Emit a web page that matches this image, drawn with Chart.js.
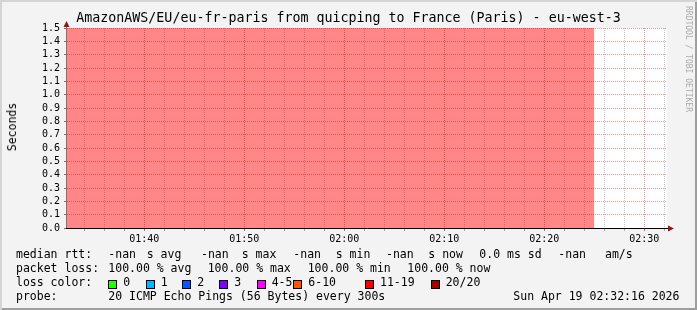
<!DOCTYPE html>
<html>
<head>
<meta charset="utf-8">
<script src="https://cdn.jsdelivr.net/npm/chart.js@4.4.1/dist/chart.umd.min.js"></script>
<style>
html, body { margin: 0; padding: 0; }
#wrap {
    position: relative; width: 697px; height: 310px; overflow: hidden;
    background: #f3f3f3;
    box-shadow: inset 2px 2px 0 #d4d4d4, inset -2px -2px 0 #9e9e9e;
    font-family: "DejaVu Sans Mono", monospace; color: #000;
}
#Canvas-Main { position: absolute; left: 0; top: 0; }
.txt { position: absolute; white-space: nowrap; font-size: 11.5px; line-height: 14px; }
#title { position: absolute; left: 0; width: 697px; top: 10px; text-align: center; font-size: 13.3px; line-height: 16px; white-space: nowrap; }
#ylabel { position: absolute; left: 11.7px; top: 126.5px; font-size: 11.5px; line-height: 14px; white-space: nowrap; transform: translate(-50%, -50%) rotate(-90deg); }
#stamp { position: absolute; left: 688px; top: 58.5px; font-size: 8px; line-height: 10px; color: #ababab; white-space: nowrap; transform: translate(-50%, -50%) rotate(90deg); }
.box { position: absolute; width: 7px; height: 7px; border: 1px solid #000; }
</style>
</head>
<body>
<div id="wrap">
    <canvas id="Canvas-Main" width="697" height="310"></canvas>
    <div id="title">AmazonAWS/EU/eu-fr-paris from quicping to France (Paris) - eu-west-3</div>
    <div id="ylabel">Seconds</div>
    <div id="stamp">RRDTOOL / TOBI OETIKER</div>
    <div id="legend"></div>
</div>
<script>
// samples every 300s, pings lost out of 20
var sampleTimes = ['01:30', '01:35', '01:40', '01:45', '01:50', '01:55', '02:00', '02:05', '02:10', '02:15', '02:20', '02:25'];
var lossPings = [20, 20, 20, 20, 20, 20, 20, 20, 20, 20, 20, 20];
var pingsPerProbe = 20;

var rangeStart = '01:32:16';
var rangeEnd = '02:32:16';
var xLabels = ['01:40', '01:50', '02:00', '02:10', '02:20', '02:30'];
var yLabels = ['0.0', '0.1', '0.2', '0.3', '0.4', '0.5', '0.6', '0.7', '0.8', '0.9', '1.0', '1.1', '1.2', '1.3', '1.4', '1.5'];

// legend stats: avg, max, min, now
var rttStats = ['-nan', '-nan', '-nan', '-nan'];
var rttSd = '0.0';
var rttAmS = '-nan';
var lossStats = ['100.00', '100.00', '100.00', '100.00'];
var lossBuckets = ['0', '1', '2', '3', '4-5', '6-10', '11-19', '20/20'];
var lossColors = ['#26ff00', '#00b8ff', '#0059ff', '#7e00ff', '#ff00ff', '#ff5500', '#ff0000', '#a10000'];
var probeText = '20 ICMP Echo Pings (56 Bytes) every 300s';
var stampText = 'Sun Apr 19 02:32:16 2026';

function toMin(t) {
    var p = t.split(':').map(Number);
    return p[0] * 60 + p[1] + (p[2] || 0) / 60;
}

var xMin = toMin(rangeStart);
var xMax = toMin(rangeEnd);
var yValues = yLabels.map(parseFloat);
var yMax = yValues[yValues.length - 1];
var majorMins = xLabels.map(toMin);

var lossPoints = sampleTimes.map(function (t, i) {
    return { x: toMin(t), y: lossPings[i] / pingsPerProbe * yMax };
});

function isMajor(v) {
    return majorMins.some(function (m) { return Math.abs(m - v) < 0.01; });
}

var axesPlugin = {
    id: 'rrdAxes',
    beforeDraw: function (chart) {
        var a = chart.chartArea, ctx = chart.ctx;
        ctx.save();
        ctx.fillStyle = '#ffffff';
        ctx.fillRect(a.left, a.top, a.right - a.left, a.bottom - a.top);
        ctx.restore();
    },
    afterDraw: function (chart) {
        var a = chart.chartArea, ctx = chart.ctx;
        ctx.save();
        ctx.lineWidth = 1;
        ctx.strokeStyle = '#777777';
        ctx.beginPath();
        ctx.moveTo(a.left - 0.5, a.bottom);
        ctx.lineTo(a.left - 0.5, a.top - 2);
        ctx.stroke();
        ctx.strokeStyle = '#000000';
        ctx.beginPath();
        ctx.moveTo(a.left - 1, a.bottom + 0.5);
        ctx.lineTo(a.right + 2, a.bottom + 0.5);
        ctx.stroke();
        ctx.fillStyle = '#8b1a1a';
        ctx.beginPath();
        ctx.moveTo(a.left - 0.5, a.top - 7);
        ctx.lineTo(a.left - 3.5, a.top - 1);
        ctx.lineTo(a.left + 2.5, a.top - 1);
        ctx.closePath();
        ctx.fill();
        ctx.beginPath();
        ctx.moveTo(a.right + 7, a.bottom + 0.5);
        ctx.lineTo(a.right + 1, a.bottom - 2.5);
        ctx.lineTo(a.right + 1, a.bottom + 3.5);
        ctx.closePath();
        ctx.fill();
        ctx.restore();
    }
};

var ctx = document.getElementById('Canvas-Main').getContext('2d');
var myChart = new Chart(ctx, {
    type: 'line',
    data: {
        datasets: [{
            label: 'loss 20/20',
            data: lossPoints,
            stepped: 'before',
            fill: 'origin',
            backgroundColor: 'rgba(255, 0, 0, 0.47)',
            borderColor: 'rgba(0, 0, 0, 0)',
            borderWidth: 0,
            pointRadius: 0
        }]
    },
    options: {
        responsive: false,
        animation: false,
        events: [],
        layout: {
            padding: { top: 28, right: 30, bottom: 0, left: 0 }
        },
        plugins: {
            legend: { display: false },
            title: { display: false },
            tooltip: { enabled: false }
        },
        scales: {
            x: {
                type: 'linear',
                min: xMin,
                max: xMax,
                afterBuildTicks: function (axis) {
                    var t = [];
                    for (var m = Math.ceil(xMin / 2) * 2; m <= xMax; m += 2) {
                        t.push({ value: m });
                    }
                    axis.ticks = t;
                },
                afterFit: function (scale) { scale.height = 82; },
                ticks: {
                    autoSkip: false,
                    maxRotation: 0,
                    padding: 2,
                    color: '#000',
                    font: { family: 'DejaVu Sans Mono', size: 10 },
                    callback: function (v) {
                        var i = majorMins.findIndex(function (m) { return Math.abs(m - v) < 0.01; });
                        return i >= 0 ? xLabels[i] : '';
                    }
                },
                grid: {
                    lineWidth: 1,
                    tickLength: 3,
                    color: function (c) {
                        return isMajor(c.tick.value) ? 'rgba(210, 60, 60, 0.55)' : 'rgba(0, 0, 0, 0.22)';
                    },
                    tickColor: function (c) {
                        return isMajor(c.tick.value) ? 'rgba(210, 60, 60, 0.8)' : 'rgba(0, 0, 0, 0.3)';
                    }
                },
                border: { display: false, dash: [1, 1] }
            },
            y: {
                min: 0,
                max: yMax,
                afterBuildTicks: function (axis) {
                    axis.ticks = yValues.map(function (v) { return { value: v }; });
                },
                afterFit: function (scale) { scale.width = 67; },
                ticks: {
                    autoSkip: false,
                    padding: 4,
                    color: '#000',
                    font: { family: 'DejaVu Sans Mono', size: 10 },
                    callback: function (v) {
                        var i = yValues.findIndex(function (y) { return Math.abs(y - v) < 0.001; });
                        return i >= 0 ? yLabels[i] : '';
                    }
                },
                grid: {
                    lineWidth: 1,
                    tickLength: 3,
                    color: 'rgba(210, 60, 60, 0.55)',
                    tickColor: 'rgba(120, 60, 60, 0.8)'
                },
                border: { display: false, dash: [1, 1] }
            }
        }
    },
    plugins: [axesPlugin]
});

// legend rows, rrdtool style
var legend = document.getElementById('legend');
function addText(x, top, text) {
    var d = document.createElement('div');
    d.className = 'txt';
    d.style.left = x + 'px';
    d.style.top = top + 'px';
    d.textContent = text;
    legend.appendChild(d);
}
function addBox(x, top, color) {
    var b = document.createElement('div');
    b.className = 'box';
    b.style.left = x + 'px';
    b.style.top = top + 'px';
    b.style.background = color;
    legend.appendChild(b);
}

var row1 = 247, row2 = 261, row3 = 275, row4 = 289;

addText(16, row1, 'median rtt:');
var rttNames = ['avg', 'max', 'min', 'now'];
var rttValX = [108.3, 201, 293.3, 386];
var rttUnitX = [146.7, 241.7, 335.7, 428.3];
rttStats.forEach(function (v, i) {
    addText(rttValX[i], row1, v);
    addText(rttUnitX[i], row1, 's ' + rttNames[i]);
});
addText(479.3, row1, rttSd + ' ms sd');
addText(558.3, row1, rttAmS);
addText(605, row1, 'am/s');

addText(16, row2, 'packet loss:');
var lossX = [108.3, 207.7, 307.7, 407.3];
lossStats.forEach(function (v, i) {
    addText(lossX[i], row2, v + ' % ' + rttNames[i]);
});

addText(16, row3, 'loss color:');
var boxX = [108.3, 145.7, 182.3, 219.3, 256.7, 293.3, 365, 430.7];
lossBuckets.forEach(function (b, i) {
    addBox(boxX[i], 280, lossColors[i]);
    addText(boxX[i] + 15, row3, b);
});

addText(16, row4, 'probe:');
addText(108.3, row4, probeText);
addText(513.3, row4, stampText);
</script>
</body>
</html>
